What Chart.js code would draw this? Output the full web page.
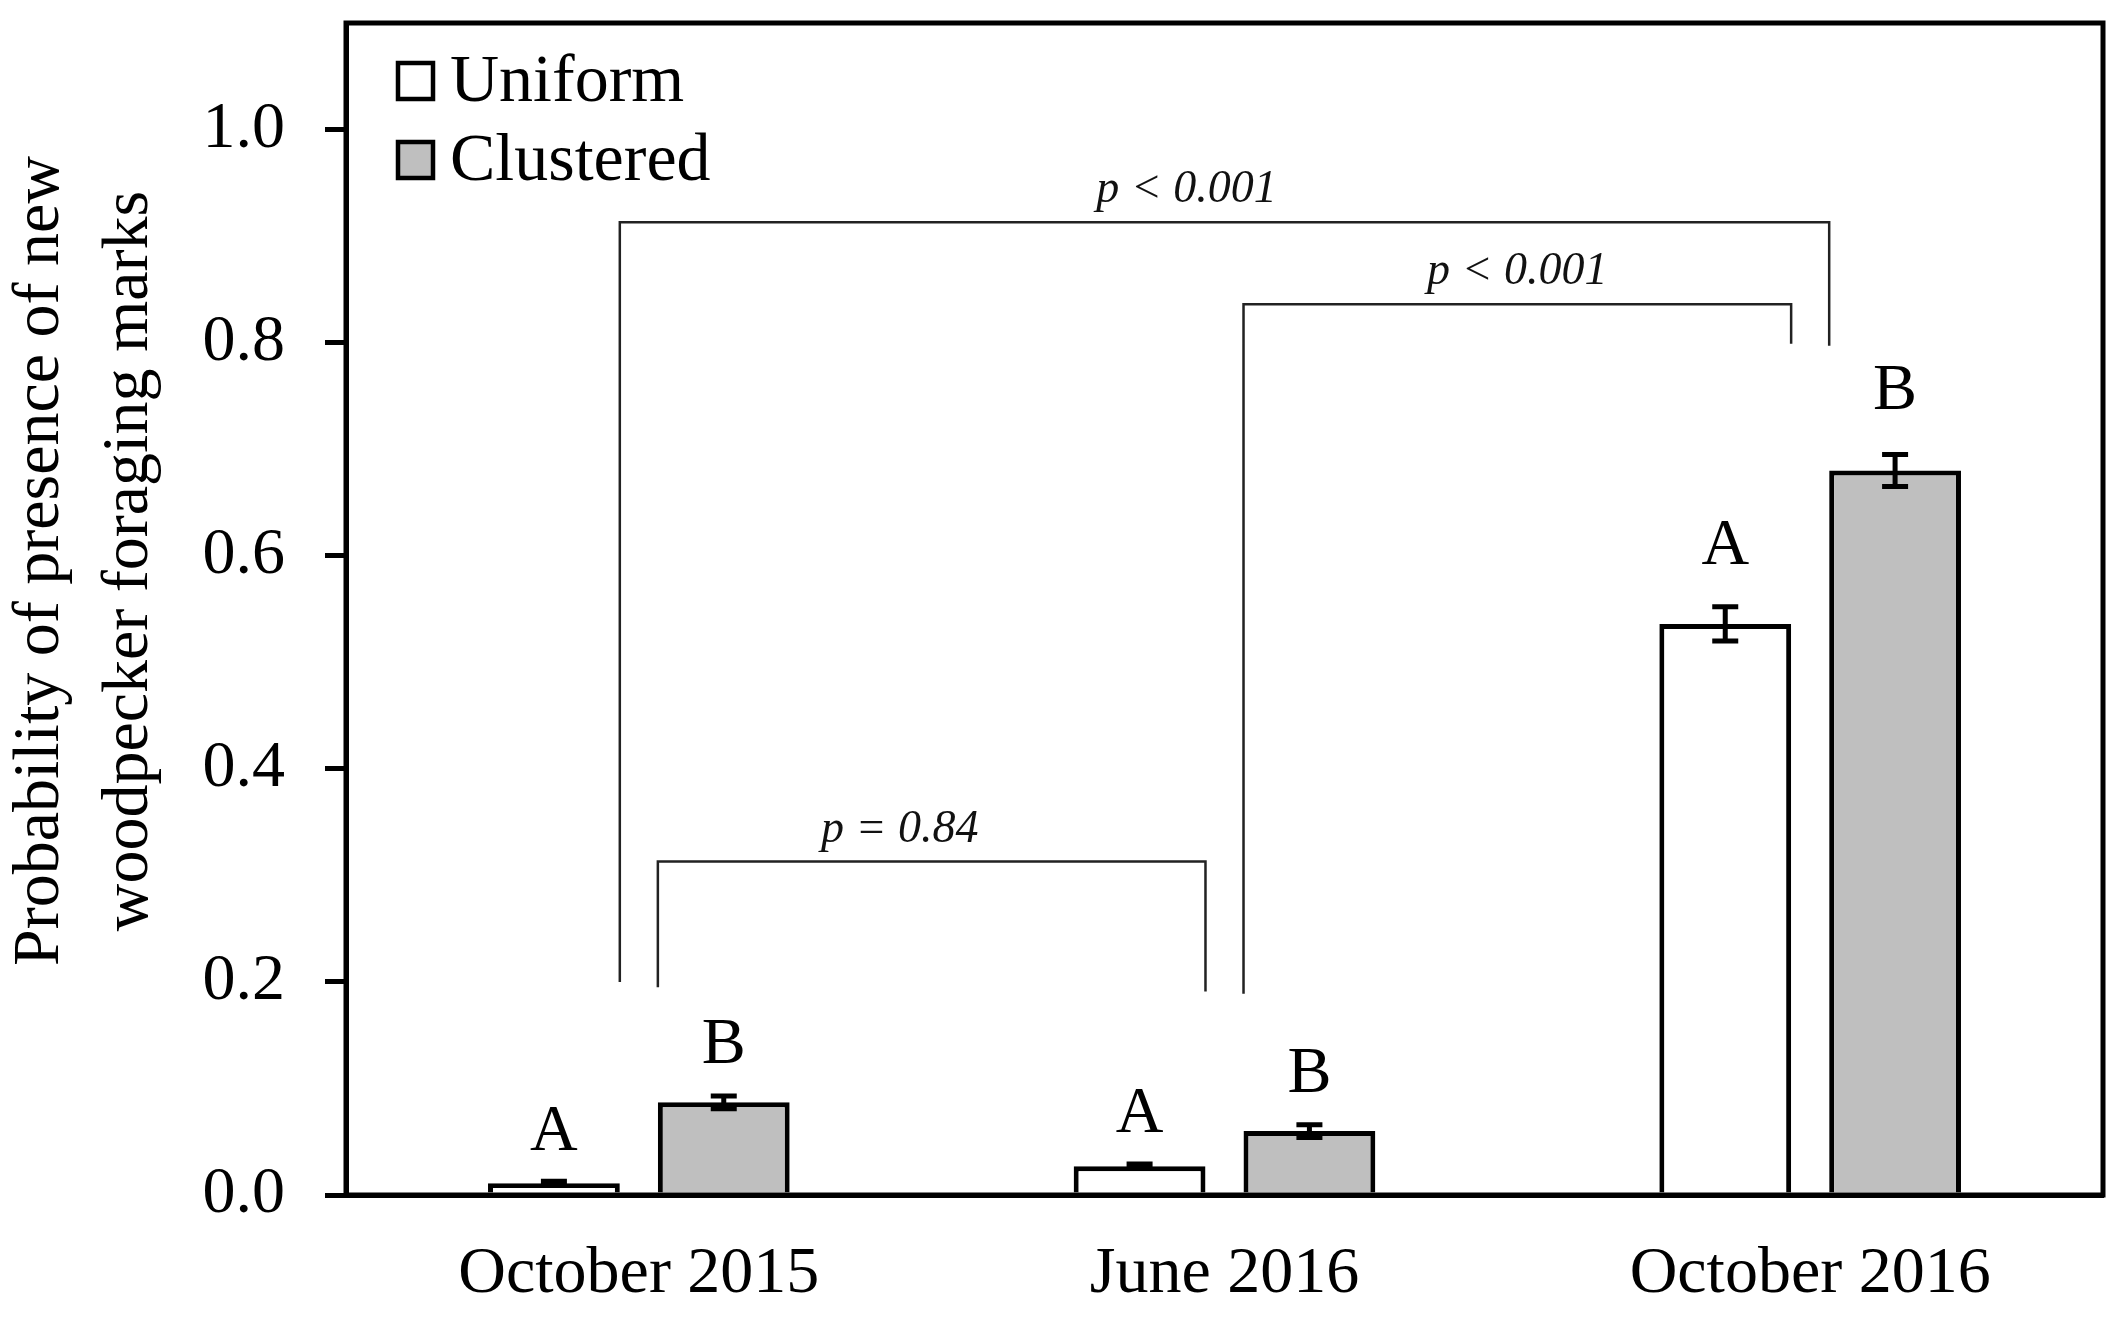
<!DOCTYPE html>
<html>
<head>
<meta charset="utf-8">
<script src="https://cdn.jsdelivr.net/npm/chart.js@4.4.1/dist/chart.umd.min.js"></script>
<style>
    body { margin: 0; background: #fff; }
    #wrap { width: 2118px; height: 1322px; }
</style>
</head>
<body>
<div id="wrap"><canvas id="bar-plot"></canvas></div>
<script>
const categories = ['October 2015', 'June 2016', 'October 2016'];
const seriesNames = ['Uniform', 'Clustered'];
const uniformValues = [0.011, 0.027, 0.536];
const uniformErrors = [0.002, 0.002, 0.016];
const clusteredValues = [0.087, 0.060, 0.680];
const clusteredErrors = [0.006, 0.006, 0.015];
const uniformLetters = ['A', 'A', 'A'];
const clusteredLetters = ['B', 'B', 'B'];
const yTitleLines = ['Probability of presence of new', 'woodpecker foraging marks'];

// comparison brackets: [dataset, index, bar edge], leg ends and bar level in y units
const brackets = [
    { label: 'p = 0.84', from: [1, 0, 'left'], to: [0, 1, 'right'], leftEnd: 0.195, rightEnd: 0.191, level: 0.313, shift: -32 },
    { label: 'p < 0.001', from: [1, 1, 'left'], to: [0, 2, 'right'], leftEnd: 0.189, rightEnd: 0.799, level: 0.836, shift: 0 },
    { label: 'p < 0.001', from: [0, 0, 'right'], to: [1, 2, 'left'], leftEnd: 0.200, rightEnd: 0.797, level: 0.913, shift: -38 }
];

const serif = "'Liberation Serif', 'Times New Roman', serif";

const extras = {
    id: 'extras',
    afterDatasetsDraw(chart) {
        const ctx = chart.ctx;
        const y = chart.scales.y;
        const area = chart.chartArea;
        const errors = [uniformErrors, clusteredErrors];
        const letters = [uniformLetters, clusteredLetters];

        ctx.save();
        // error bars + letters
        chart.data.datasets.forEach((ds, di) => {
            const meta = chart.getDatasetMeta(di);
            meta.data.forEach((bar, i) => {
                const v = ds.data[i];
                const e = errors[di][i];
                const top = y.getPixelForValue(v + e);
                const bot = y.getPixelForValue(v - e);
                ctx.strokeStyle = '#000';
                ctx.lineWidth = 5;
                ctx.beginPath();
                ctx.moveTo(bar.x, top);
                ctx.lineTo(bar.x, bot);
                ctx.moveTo(bar.x - 13, top);
                ctx.lineTo(bar.x + 13, top);
                ctx.moveTo(bar.x - 13, bot);
                ctx.lineTo(bar.x + 13, bot);
                ctx.stroke();

                ctx.fillStyle = '#000';
                ctx.font = '66px ' + serif;
                ctx.textAlign = 'center';
                ctx.textBaseline = 'alphabetic';
                const gap = 0.05 + 0.02 * v;
                ctx.fillText(letters[di][i], bar.x, y.getPixelForValue(v + e + gap) + 22);
            });
        });

        // brackets
        const edge = (ref) => {
            const bar = chart.getDatasetMeta(ref[0]).data[ref[1]];
            return ref[2] === 'left' ? bar.x - bar.width / 2 : bar.x + bar.width / 2;
        };
        brackets.forEach(b => {
            const x1 = edge(b.from);
            const x2 = edge(b.to);
            const yl = y.getPixelForValue(b.level);
            ctx.strokeStyle = '#222';
            ctx.lineWidth = 2.5;
            ctx.beginPath();
            ctx.moveTo(x1, y.getPixelForValue(b.leftEnd));
            ctx.lineTo(x1, yl);
            ctx.lineTo(x2, yl);
            ctx.lineTo(x2, y.getPixelForValue(b.rightEnd));
            ctx.stroke();
            ctx.fillStyle = '#111';
            ctx.font = 'italic 46px ' + serif;
            ctx.textAlign = 'center';
            ctx.fillText(b.label, (x1 + x2) / 2 + b.shift, yl - 20);
        });

        // legend inside plot box
        chart.data.datasets.forEach((ds, di) => {
            const bx = area.left + 52;
            const by = area.top + 40 + di * 79;
            ctx.fillStyle = ds.backgroundColor;
            ctx.fillRect(bx, by, 35, 36);
            ctx.strokeStyle = '#000';
            ctx.lineWidth = 4.5;
            ctx.strokeRect(bx, by, 35, 36);
            ctx.fillStyle = '#000';
            ctx.font = '68px ' + serif;
            ctx.textAlign = 'left';
            ctx.fillText(ds.label, bx + 52, by + 38);
        });

        // frame
        ctx.strokeStyle = '#000';
        ctx.lineWidth = 5;
        ctx.strokeRect(area.left, area.top, area.right - area.left, area.bottom - area.top);

        // y title, two lines
        ctx.font = '66px ' + serif;
        ctx.textAlign = 'center';
        ctx.fillStyle = '#000';
        [58, 147].forEach((bx, k) => {
            ctx.save();
            ctx.translate(bx, 561);
            ctx.rotate(-Math.PI / 2);
            ctx.fillText(yTitleLines[k], 0, 0);
            ctx.restore();
        });
        ctx.restore();
    }
};

let chart = document.getElementById('bar-plot').getContext('2d');
new Chart(chart, {
    type: 'bar',
    data: {
        labels: categories,
        datasets: [{
            label: seriesNames[0],
            data: uniformValues,
            backgroundColor: '#ffffff',
            borderColor: '#000000',
            borderWidth: 5,
            borderSkipped: 'bottom'
        }, {
            label: seriesNames[1],
            data: clusteredValues,
            backgroundColor: '#bfbfbf',
            borderColor: '#000000',
            borderWidth: 5,
            borderSkipped: 'bottom'
        }]
    },
    options: {
        responsive: true,
        maintainAspectRatio: false,
        animation: false,
        layout: { padding: { top: 23, right: 15, left: 0, bottom: 0 } },
        categoryPercentage: 0.58,
        barPercentage: 0.776,
        plugins: {
            legend: { display: false },
            tooltip: { enabled: false }
        },
        scales: {
            x: {
                grid: { display: false },
                border: { display: true, color: '#000', width: 5 },
                ticks: {
                    color: '#000',
                    padding: 32,
                    font: { family: serif, size: 66 },
                    maxRotation: 0
                },
                afterFit(scale) {
                    scale.height = 127;
                    scale.paddingLeft = 0;
                    scale.paddingRight = 0;
                }
            },
            y: {
                min: 0,
                max: 1.1,
                grid: { display: true, drawOnChartArea: false, drawTicks: true, tickLength: 21, color: '#000', lineWidth: 5 },
                border: { display: true, color: '#000', width: 5 },
                ticks: {
                    stepSize: 0.2,
                    includeBounds: false,
                    color: '#000',
                    padding: 40,
                    font: { family: serif, size: 66 },
                    callback: v => v.toFixed(1)
                },
                afterFit(scale) {
                    scale.width = 346;
                    scale.paddingTop = 0;
                    scale.paddingBottom = 0;
                }
            }
        }
    },
    plugins: [extras]
});
</script>
</body>
</html>
